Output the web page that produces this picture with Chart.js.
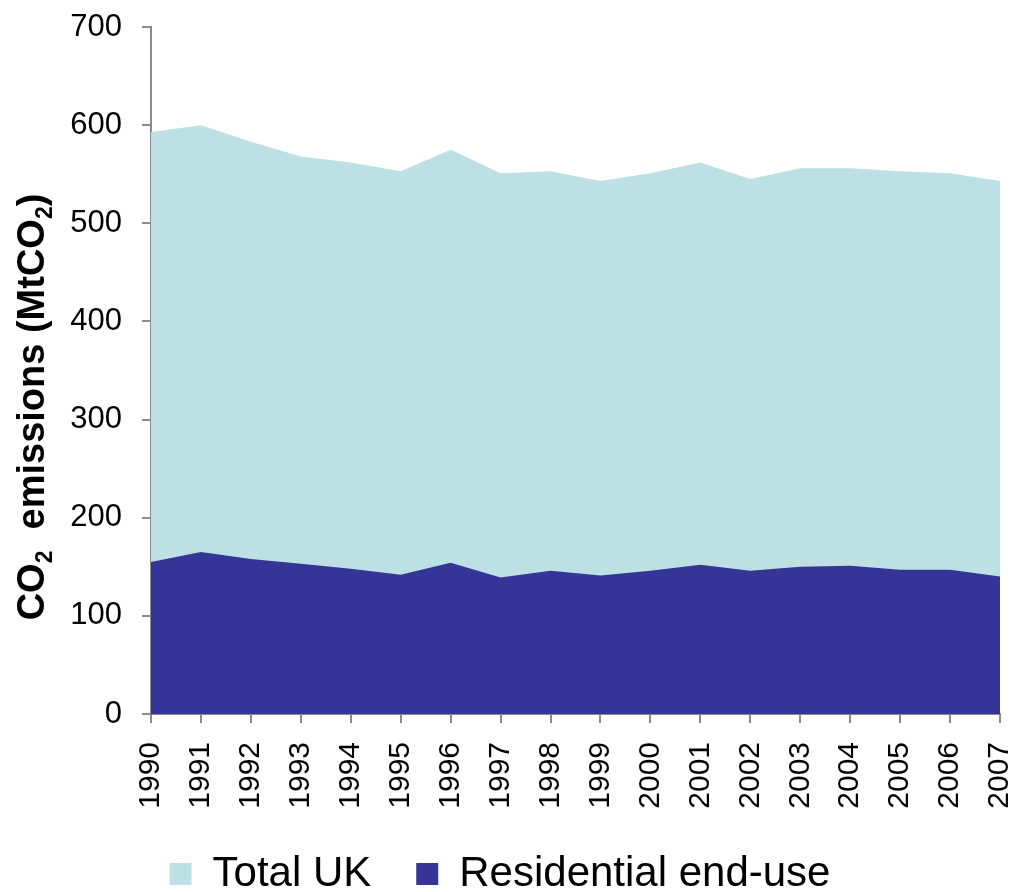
<!DOCTYPE html>
<html>
<head>
<meta charset="utf-8">
<title>UK CO2 emissions</title>
<script src="https://cdn.jsdelivr.net/npm/chart.js@4"></script>
<style>
  html, body { margin: 0; padding: 0; background: #fff; }
  canvas { display: block; }
</style>
</head>
<body>
<canvas id="chart" width="1014" height="892"></canvas>
<script>
const years = ["1990", "1991", "1992", "1993", "1994", "1995", "1996", "1997", "1998",
  "1999", "2000", "2001", "2002", "2003", "2004", "2005", "2006", "2007"];
const totalUK = [593, 600, 583, 568, 562, 553, 575, 551, 553, 543, 551, 562, 545, 556, 556, 553, 551, 543];
const residential = [155, 165, 158, 153, 148, 142, 154, 139, 146, 141, 146, 152, 146, 150, 151, 147, 147, 140];

const FONT = "'Liberation Sans', Arial, Helvetica, sans-serif";
const AXIS_GREY = "#8a8a8a";

// rotated y-axis title with real subscripts
const yTitle = {
  id: "yTitle",
  afterDraw(chart) {
    const ctx = chart.ctx;
    const parts = [
      { t: "CO", sub: false },
      { t: "2", sub: true },
      { t: "  emissions (MtCO", sub: false },
      { t: "2", sub: true },
      { t: ")", sub: false }
    ];
    const big = "bold 38px " + FONT;
    const small = "bold 23px " + FONT;
    ctx.save();
    let total = 0;
    parts.forEach(p => {
      ctx.font = p.sub ? small : big;
      p.w = ctx.measureText(p.t).width;
      total += p.w;
    });
    ctx.translate(44, 407);
    ctx.rotate(-Math.PI / 2);
    ctx.fillStyle = "#000";
    ctx.textBaseline = "alphabetic";
    ctx.textAlign = "left";
    let x = -total / 2;
    parts.forEach(p => {
      ctx.font = p.sub ? small : big;
      ctx.fillText(p.t, x, p.sub ? 8 : 0);
      x += p.w;
    });
    ctx.restore();
  }
};

new Chart(document.getElementById("chart"), {
  type: "line",
  data: {
    labels: years,
    datasets: [
      {
        label: "Total UK",
        data: totalUK,
        backgroundColor: "#bce0e3",
        borderColor: "#bce0e3",
        borderWidth: 0,
        pointRadius: 0,
        fill: "origin",
        order: 1
      },
      {
        label: "Residential end-use",
        data: residential,
        backgroundColor: "#353598",
        borderColor: "#353598",
        borderWidth: 0,
        pointRadius: 0,
        fill: "origin",
        order: 0
      }
    ]
  },
  options: {
    responsive: false,
    animation: false,
    layout: { padding: { top: 27, right: 14, left: 0, bottom: 0 } },
    plugins: {
      tooltip: { enabled: false },
      legend: {
        position: "bottom",
        maxHeight: 84,
        labels: {
          boxWidth: 22,
          boxHeight: 22,
          padding: 45,
          color: "#000",
          font: { family: FONT, size: 42 },
          sort: (a, b) => a.datasetIndex - b.datasetIndex
        }
      }
    },
    scales: {
      x: {
        offset: false,
        grid: { drawOnChartArea: false, color: AXIS_GREY, lineWidth: 2, tickLength: 9 },
        border: { color: AXIS_GREY, width: 2 },
        ticks: {
          autoSkip: false,
          minRotation: 90,
          maxRotation: 90,
          padding: 19,
          color: "#000",
          font: { family: FONT, size: 30 }
        },
        afterFit(scale) {
          scale.height = 94;
          scale.paddingLeft = 0;
          scale.paddingRight = 0;
        }
      },
      y: {
        min: 0,
        max: 700,
        grid: { drawOnChartArea: false, color: AXIS_GREY, lineWidth: 2, tickLength: 9 },
        border: { color: AXIS_GREY, width: 2 },
        ticks: {
          stepSize: 100,
          padding: 20,
          color: "#000",
          font: { family: FONT, size: 31 }
        },
        afterFit(scale) {
          scale.width = 151;
          scale.paddingTop = 0;
          scale.paddingBottom = 0;
        }
      }
    }
  },
  plugins: [yTitle]
});
</script>
</body>
</html>
